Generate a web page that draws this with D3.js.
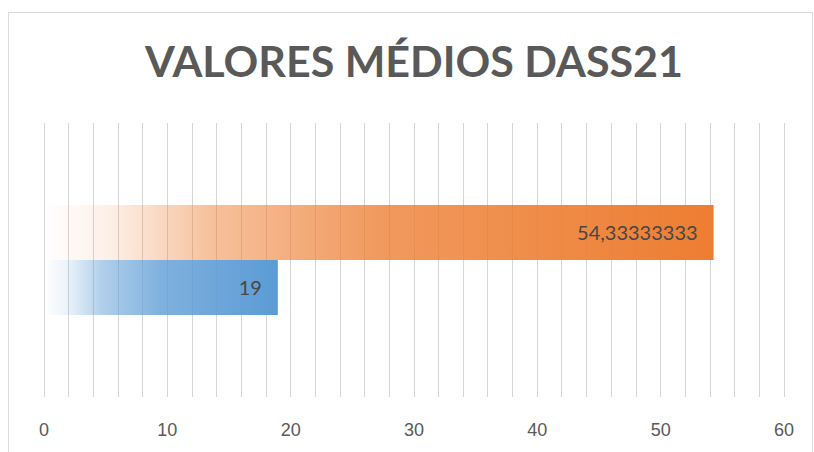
<!DOCTYPE html>
<html>
<head>
<meta charset="utf-8">
<script src="https://cdn.jsdelivr.net/npm/d3@7"></script>
<style>
  body { margin: 0; background: #fff; }
  svg { display: block; font-family: Lato, 'Open Sans', sans-serif; }
  .grid line { stroke: #d6d6d6; stroke-width: 1; }
  .tickLabel { fill: #595959; font-size: 18px; }
  .valueLabel { fill: #474747; font-size: 20px; }
</style>
</head>
<body>
<svg id="chart"></svg>
<script>
var seriesNames = ['Série 1', 'Série 2']
var seriesValues = [19, 54.33333333]
var seriesColors = ['#5b9bd5', '#ed7d31']
var tickValues = [0, 10, 20, 30, 40, 50, 60]
var chartTitle = 'VALORES MÉDIOS DASS21'

var svgWidth = 814
var svgHeight = 452
var plotLeft = 43.5, plotRight = 783.5
var plotTop = 123, plotBottom = 397

var svg = d3.select('#chart')
  .attr('width', svgWidth)
  .attr('height', svgHeight)

// chart area border
svg.append('rect')
  .attr('x', 8.5).attr('y', 12.5)
  .attr('width', 804).attr('height', 460)
  .attr('fill', '#fff')
  .attr('stroke', '#d9d9d9')

svg.append('text')
  .attr('x', 414)
  .attr('y', 77)
  .attr('text-anchor', 'middle')
  .attr('font-size', 42)
  .attr('font-weight', 'bold')
  .attr('fill', '#595959')
  .attr('textLength', 538)
  .attr('lengthAdjust', 'spacingAndGlyphs')
  .text(chartTitle)

var x = d3.scaleLinear().domain([0, 60]).range([plotLeft, plotRight])

// bars stacked top to bottom in reverse series order, like the spreadsheet does
var order = seriesNames.map(function(d, i) { return i }).reverse()
var y = d3.scaleBand()
  .domain(order)
  .range([plotTop, plotBottom])
  .paddingInner(0)
  .paddingOuter(1.49)

// gridlines every 2 units
svg.append('g')
  .attr('class', 'grid')
  .selectAll('line')
  .data(d3.range(0, 61, 2)).enter().append('line')
  .attr('x1', function(d) { return Math.round(x(d)) + 0.5 })
  .attr('x2', function(d) { return Math.round(x(d)) + 0.5 })
  .attr('y1', plotTop).attr('y2', plotBottom)

// axis labels
var axis = d3.axisBottom(x).tickValues(tickValues).tickSize(0).tickPadding(0)
var axisG = svg.append('g')
  .attr('transform', 'translate(0,' + 423 + ')')
  .call(axis)
axisG.select('.domain').remove()
axisG.selectAll('text')
  .attr('class', 'tickLabel')
  .attr('fill', null)
  .attr('font-family', null)
  .attr('font-size', null)

// gradients
var defs = svg.append('defs')
var stops = [[0, 0], [0.1, 0.12], [0.25, 0.48], [0.5, 0.78], [1, 1]]
seriesColors.forEach(function(color, i) {
  var grad = defs.append('linearGradient')
    .attr('id', 'grad' + i)
    .attr('x1', 0).attr('x2', 1).attr('y1', 0).attr('y2', 0)
  stops.forEach(function(s) {
    grad.append('stop')
      .attr('offset', s[0])
      .attr('stop-color', color)
      .attr('stop-opacity', s[1])
  })
})

var bars = svg.selectAll('g.bar')
  .data(order).enter().append('g')
  .attr('class', 'bar')

bars.append('rect')
  .attr('x', x(0))
  .attr('y', function(i) { return y(i) })
  .attr('width', function(i) { return x(seriesValues[i]) - x(0) })
  .attr('height', y.bandwidth())
  .attr('fill', function(i) { return 'url(#grad' + i + ')' })

bars.append('text')
  .attr('class', 'valueLabel')
  .attr('x', function(i) { return x(seriesValues[i]) - 16 })
  .attr('y', function(i) { return y(i) + y.bandwidth() / 2 })
  .attr('dy', '0.36em')
  .attr('text-anchor', 'end')
  .text(function(i) { return String(seriesValues[i]).replace('.', ',') })
</script>
</body>
</html>
